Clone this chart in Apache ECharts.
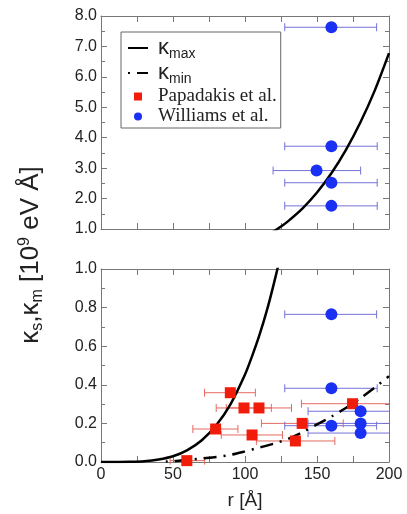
<!DOCTYPE html>
<html><head><meta charset="utf-8">
<script src="https://cdn.jsdelivr.net/npm/echarts@6/dist/echarts.min.js"></script>
<style>html,body{margin:0;padding:0;background:#fff}#c{width:407px;height:514px}</style>
</head><body><div id="c"></div>
<script>
// Curves
const rCurve = [0,10,20,30,40,50,60,70,80,90,100,105,110,115,120,125,130,140,150,160,170,180,190,200];
const kMax   = [0,0.0001,0.001,0.004,0.013,0.03,0.062,0.113,0.19,0.30,0.453,0.55,0.657,0.78,0.923,1.08,1.26,1.68,2.20,2.83,3.59,4.49,5.54,6.78];
const rMin   = [45,50,60,70,80,90,100,110,120,130,140,150,160,170,180,190,200];
const kMin   = [0.002,0.005,0.010,0.018,0.026,0.037,0.055,0.075,0.095,0.12,0.155,0.195,0.235,0.28,0.33,0.385,0.445];
// Papadakis et al. (bottom panel): r, value, r low, r high
const papR   = [59.6,79.6,89.8,99.3,109.7,104.9,135,139.7,174.7];
const papV   = [0.007,0.171,0.359,0.28,0.28,0.14,0.109,0.2,0.302];
const papLo  = [48,63.8,71.9,80,87,83.5,107.9,111.4,139.2];
const papHi  = [72,95.1,107.2,118.3,132.3,126,162.4,168.2,215];
// Williams et al. bottom panel
const wilR   = [160,160,180.3,160,180.3,180.3];
const wilV   = [0.765,0.382,0.263,0.188,0.2,0.15];
const wilLo  = [127.6,127.6,143.8,127.6,143.8,143.8];
const wilHi  = [191.4,191.8,215,191.4,215,215];
// Williams et al. top panel
const wilTopR  = [160,160,149.7,160,160];
const wilTopV  = [7.63,3.72,2.92,2.52,1.76];
const wilTopLo = [127.6,127.6,119.5,127.6,127.6];
const wilTopHi = [191.4,191.8,180.3,191.8,191.8];
const xTicks = [0,50,100,150,200];

const chart = echarts.init(document.getElementById('c'));
const AX = '#777';
function xAx(grid, pos, labels){
  return {type:'value', gridIndex:grid, position:pos, min:0, max:200, interval:50,
    axisLine:{show:true, onZero:false, lineStyle:{color:AX,width:1}},
    axisTick:{show:true, inside:true, length:6, lineStyle:{color:AX}},
    minorTick:{show:true, splitNumber:2, length:6, lineStyle:{color:AX}},
    splitLine:{show:false},
    axisLabel:{show:labels, color:'#222', fontSize:16, fontFamily:'Liberation Sans', margin:5},
  };
}
function yAx(grid, pos, labels, min, max, iv){
  return {type:'value', gridIndex:grid, position:pos, min:min, max:max, interval:iv,
    axisLine:{show:true, onZero:false, lineStyle:{color:AX,width:1}},
    axisTick:{show:true, inside:true, length:6, lineStyle:{color:AX}},
    minorTick:{show:true, splitNumber:2, length:4, lineStyle:{color:AX}},
    splitLine:{show:false},
    axisLabel:{show:labels, color:'#222', fontSize:16, fontFamily:'Liberation Sans', margin:4,
      formatter:v=>v.toFixed(1)},
  };
}
function errData(lo,hi,v){ return v.map((y,i)=>[lo[i],hi[i],y]); }
function errSeries(name, xi, yi, data, color){
  return {type:'custom', name:name, xAxisIndex:xi, yAxisIndex:yi, data:data, z:1,
    itemStyle:{color:color},
    renderItem:function(params, api){
      const lo=api.value(0), hi=api.value(1), y=api.value(2);
      const cs=params.coordSys;
      const p1=api.coord([lo,y]), p2=api.coord([hi,y]);
      const right=cs.x+cs.width;
      const children=[];
      const x2=Math.min(p2[0],right);
      children.push({type:'line', shape:{x1:p1[0],y1:p1[1],x2:x2,y2:p2[1]}, style:{stroke:color,lineWidth:1}});
      children.push({type:'line', shape:{x1:p1[0],y1:p1[1]-4,x2:p1[0],y2:p1[1]+4}, style:{stroke:color,lineWidth:1}});
      if(p2[0]<=right) children.push({type:'line', shape:{x1:p2[0],y1:p2[1]-4,x2:p2[0],y2:p2[1]+4}, style:{stroke:color,lineWidth:1}});
      return {type:'group', children:children};
    }};
}
const RED='#f21c0a', BLUE='#1a30f2', RBAR='#e66a60', BBAR='#7472d8';
const pts=(a,b)=>a.map((x,i)=>[x,b[i]]);

chart.setOption({
  animation:false,
  grid:[{left:101,right:18,top:16,height:213},{left:101,right:18,top:269,height:193}],
  xAxis:[xAx(0,'bottom',false), xAx(0,'top',false), 
    Object.assign(xAx(1,'bottom',true),{name:'r [Å]', nameLocation:'middle', nameGap:29,
      nameTextStyle:{fontSize:19,color:'#222',fontFamily:'Liberation Sans'}}),
    xAx(1,'top',false)],
  yAxis:[yAx(0,'left',true,1,8,1), yAx(0,'right',false,1,8,1),
    yAx(1,'left',true,0,1,0.2), yAx(1,'right',false,0,1,0.2)],
  legend:{
    left:121, top:32, orient:'vertical', backgroundColor:'#fff', borderColor:'#666', borderWidth:1,
    padding:[5,4,2,6], itemGap:1, itemWidth:20, itemHeight:8,
    data:[{name:'κmax', itemStyle:{opacity:0}},{name:'κmin', itemStyle:{opacity:0}},
      {name:'Papadakis et al.', icon:'path://M0,0L1,0L1,1L0,1Z'},'Williams et al.'],
    formatter:function(n){
      if(n==='κmax') return '{k|κ}{s|max}';
      if(n==='κmin') return '{k|κ}{s|min}';
      return '{t|'+n+'}';
    },
    textStyle:{color:'#222', rich:{
      k:{fontSize:22,fontFamily:'Liberation Sans',color:'#222',lineHeight:20,padding:[0,0,0,5]},
      s:{fontSize:14,fontFamily:'Liberation Sans',color:'#222',verticalAlign:'bottom',padding:[12,0,0,0]},
      t:{fontSize:19,fontFamily:'Liberation Serif',color:'#222',lineHeight:20,padding:[0,0,0,5]}
    }}
  },
  graphic:[{type:'text', x:31, y:255, rotation:Math.PI/2, z:10,
    style:{text:'κ{s|s},κ{s|m} [10{p|9} eV Å]', align:'center', verticalAlign:'middle',
      fontSize:26, fontFamily:'Liberation Sans', fill:'#222',
      rich:{s:{fontSize:16,fontFamily:'Liberation Sans',fill:'#222',verticalAlign:'bottom',padding:[13,0,0,0]},
            p:{fontSize:16,fontFamily:'Liberation Sans',fill:'#222',verticalAlign:'top',padding:[0,0,13,0]}}}}],
  series:[
    {type:'line', name:'κmax', xAxisIndex:0, yAxisIndex:0, data:pts(rCurve,kMax), smooth:0.3, symbol:'none', clip:true,
      itemStyle:{color:'#000'}, lineStyle:{color:'#000',width:2.5}, z:3},
    {type:'line', name:'κmax', xAxisIndex:2, yAxisIndex:2, data:pts(rCurve,kMax), smooth:0.3, symbol:'none', clip:true,
      itemStyle:{color:'#000'}, lineStyle:{color:'#000',width:2.5}, z:3},
    {type:'line', name:'κmin', xAxisIndex:2, yAxisIndex:2, data:pts(rMin,kMin), smooth:0.3, symbol:'none', clip:true,
      itemStyle:{color:'#000'}, lineStyle:{color:'#000',width:2.5,type:[2,7,13,7]}, z:3},
    {type:'scatter', name:'Papadakis et al.', xAxisIndex:2, yAxisIndex:2, data:pts(papR,papV), symbol:'rect', symbolSize:11,
      itemStyle:{color:RED,opacity:1}, z:5},
    {type:'scatter', name:'Williams et al.', xAxisIndex:2, yAxisIndex:2, data:pts(wilR,wilV), symbol:'circle', symbolSize:12,
      itemStyle:{color:BLUE,opacity:1}, z:5},
    {type:'scatter', name:'Williams et al.', xAxisIndex:0, yAxisIndex:0, data:pts(wilTopR,wilTopV), symbol:'circle', symbolSize:12,
      itemStyle:{color:BLUE,opacity:1}, z:5},
    errSeries('papErr',2,2,errData(papLo,papHi,papV),RBAR),
    errSeries('wilErr',2,2,errData(wilLo,wilHi,wilV),BBAR),
    errSeries('wilTopErr',0,0,errData(wilTopLo,wilTopHi,wilTopV),BBAR)
  ]
});
</script></body></html>
